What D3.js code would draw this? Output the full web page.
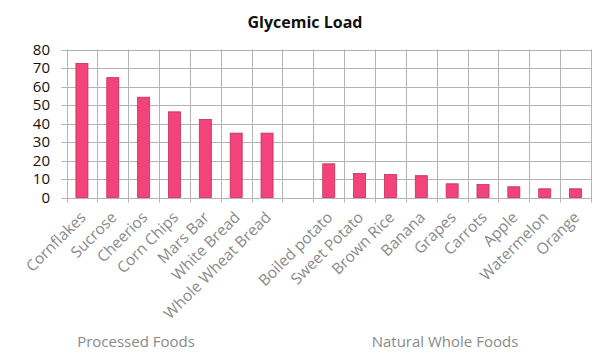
<!DOCTYPE html>
<html><head><meta charset="utf-8">
<script src="https://cdn.jsdelivr.net/npm/d3@7"></script>
<style>body{margin:0;background:#fff}svg{display:block}</style>
</head><body>
<svg id="c" width="600" height="363"></svg>
<script>
const categories = ["Cornflakes","Sucrose","Cheerios","Corn Chips","Mars Bar","White Bread","Whole Wheat Bread","",
  "Boiled potato","Sweet Potato","Brown Rice","Banana","Grapes","Carrots","Apple","Watermelon","Orange"];
const values = [72.5,64.8,54.2,46.3,42.2,34.8,34.8,null,18.2,13,12.4,11.8,7.4,7,5.8,4.7,4.7];
const yTicks = [0,10,20,30,40,50,60,70,80];
const groupNames = ["Processed Foods","Natural Whole Foods"];
const title = "Glycemic Load";

const svg = d3.select("#c");
const m = {l:66.5, r:591, t:49.5, b:197.5};
const x = d3.scaleBand().domain(d3.range(categories.length)).range([m.l, m.r]).paddingInner(0).paddingOuter(0);
const y = d3.scaleLinear().domain([0,80]).range([m.b, m.t]);
const font = "'Open Sans', sans-serif";

// gridlines
const g = svg.append("g");
g.selectAll(".hg").data(yTicks).join("line")
  .attr("x1", m.l-5).attr("x2", m.r).attr("y1", d=>Math.round(y(d))+0.5).attr("y2", d=>Math.round(y(d))+0.5)
  .attr("stroke","#b3b3b3").attr("stroke-width",1);
const vx = d3.range(categories.length+1).map(i => i < categories.length ? x(i) : m.r);
g.selectAll(".vg").data(vx).join("line")
  .attr("x1", d=>Math.round(d)+0.5).attr("x2", d=>Math.round(d)+0.5).attr("y1", m.t).attr("y2", m.b+5)
  .attr("stroke","#b3b3b3").attr("stroke-width",1);

// bars
const bw = x.bandwidth()*0.39;
svg.append("g").selectAll("rect").data(values.map((v,i)=>({v,i})).filter(d=>d.v!=null)).join("rect")
  .attr("x", d=>x(d.i)+x.bandwidth()/2-bw/2).attr("width", bw)
  .attr("y", d=>y(d.v)).attr("height", d=>y(0)-y(d.v))
  .attr("fill","#f2437a").attr("stroke","#c72d5e").attr("stroke-width",0.8);

// y labels
svg.append("g").selectAll("text").data(yTicks).join("text")
  .attr("x", 50).attr("y", d=>y(d)).attr("dy","0.36em").attr("text-anchor","end")
  .attr("font-family", font).attr("font-size", 15).attr("fill","#111").text(d=>d);

// x labels
svg.append("g").selectAll("text").data(categories.map((c,i)=>({c,i})).filter(d=>d.c)).join("text")
  .attr("transform", d=>`translate(${x(d.i)+x.bandwidth()/2+1},${m.b+17}) rotate(-45)`)
  .attr("text-anchor","end").attr("dy","0.35em")
  .attr("font-family", font).attr("font-size", 15.5).attr("fill","#8a8a8a").text(d=>d.c);

// group labels
const groupX = [136, 445];
svg.append("g").selectAll("text").data(groupNames).join("text")
  .attr("x", (d,i)=>groupX[i]).attr("y", 347).attr("text-anchor","middle")
  .attr("font-family", font).attr("font-size", 15).attr("fill","#8a8a8a").text(d=>d);

// title
svg.append("text").attr("x", 305).attr("y", 28).attr("text-anchor","middle")
  .attr("font-family", font).attr("font-weight","bold").attr("font-size", 16).attr("fill","#111").text(title);
</script>
</body></html>
